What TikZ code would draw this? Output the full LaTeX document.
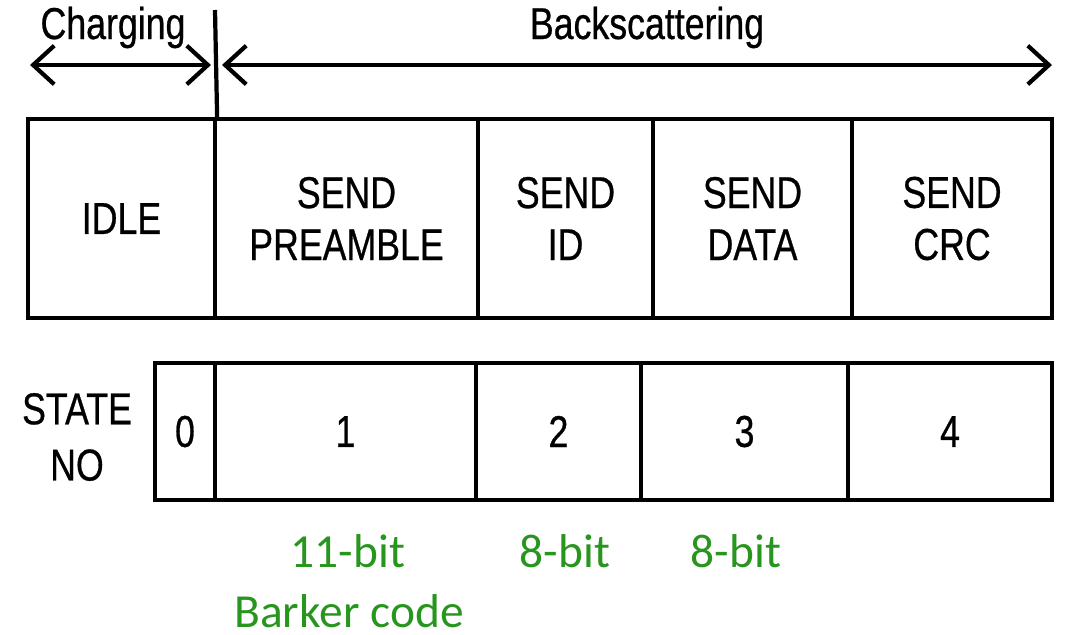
\documentclass[tikz,border=0pt]{standalone}
\usepackage{fontspec}
\setmainfont{Liberation Sans}
\newfontfamily\narrowfont[FakeStretch=0.8,FakeBold=0.6]{Liberation Sans}
\newfontfamily\greenfont{Carlito}
\usetikzlibrary{arrows.meta}
\definecolor{bitgreen}{RGB}{40,150,30}
\begin{document}
\begin{tikzpicture}[line width=1.2pt,
  cell/.style={draw, inner sep=0pt, align=center, minimum height=1.99cm,
    font=\narrowfont\fontsize{12.7}{14.8}\selectfont},
  numcell/.style={draw, inner sep=0pt, minimum height=1.37cm,
    font=\narrowfont\fontsize{12.7}{14.8}\selectfont},
  lbl/.style={anchor=base, font=\narrowfont\fontsize{12.7}{14.8}\selectfont},
  bits/.style={anchor=base, text=bitgreen, font=\greenfont\fontsize{13.5}{17}\selectfont},
  span/.style={arrows={Straight Barb[length=6pt,width=11pt]-Straight Barb[length=6pt,width=11pt]}}]
\useasboundingbox (0,0) rectangle (10.69,6.34);
% phases
\node[lbl] (charging) at (1.13,5.95) {Charging};
\node[lbl] (backscat) at (6.47,5.95) {Backscattering};
\coordinate (chgL) at (0.30,5.69);
\coordinate (chgR) at (2.11,5.69);
\coordinate (bsL) at (2.22,5.69);
\coordinate (bsR) at (10.52,5.69);
\draw[span] (chgL) -- (chgR);
\draw[span] (bsL) -- (bsR);
% states
\node[cell, minimum width=1.87cm] (idle) at (1.215,4.155) {IDLE};
\node[cell, minimum width=2.63cm] (pre) at (3.465,4.155) {SEND\\PREAMBLE};
\node[cell, minimum width=1.75cm] (id) at (5.655,4.155) {SEND\\ID};
\node[cell, minimum width=1.99cm] (data) at (7.525,4.155) {SEND\\DATA};
\node[cell, minimum width=2.00cm] (crc) at (9.52,4.155) {SEND\\CRC};
\coordinate (split) at (2.15,6.24);
\draw (split) -- (idle.north east);
% state numbers
\node[align=center, font=\narrowfont\fontsize{12.7}{16}\selectfont] (stateno) at (0.77,1.97) {STATE\\NO};
\node[numcell, minimum width=0.60cm] (s0) at (1.85,2.025) {0};
\node[numcell, minimum width=2.61cm] (s1) at (3.455,2.025) {1};
\node[numcell, minimum width=1.65cm] (s2) at (5.585,2.025) {2};
\node[numcell, minimum width=2.07cm] (s3) at (7.445,2.025) {3};
\node[numcell, minimum width=2.04cm] (s4) at (9.50,2.025) {4};
% field sizes
\node[bits] (bits1) at (3.48,0.67) {11-bit};
\node[bits] (barker) at (3.49,0.07) {Barker code};
\node[bits] (bits2) at (5.65,0.67) {8-bit};
\node[bits] (bits3) at (7.36,0.67) {8-bit};
\end{tikzpicture}
\end{document}
